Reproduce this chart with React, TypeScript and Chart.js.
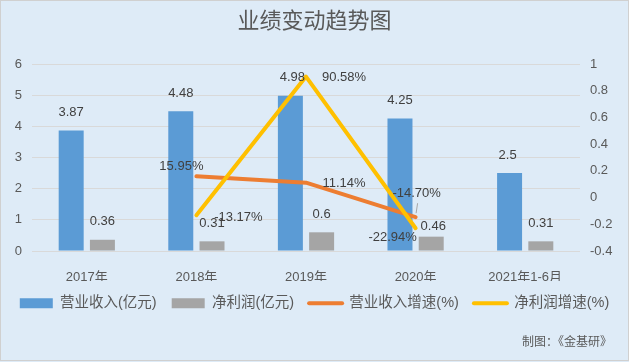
import React, { useEffect, useRef } from 'react';
import { Chart, registerables } from 'chart.js';

Chart.register(...registerables);

const categories = ['2017年', '2018年', '2019年', '2020年', '2021年1-6月'];
const revenue = [3.87, 4.48, 4.98, 4.25, 2.5];
const netProfit = [0.36, 0.31, 0.6, 0.46, 0.31];
const revenueGrowth = [null, 0.1595, 0.1114, -0.147, null];
const profitGrowth = [null, -0.1317, 0.9058, -0.2294, null];
const leftTicks = [0, 1, 2, 3, 4, 5, 6];
const rightTicks = [-0.4, -0.2, 0, 0.2, 0.4, 0.6, 0.8, 1];

const seriesNames = ['营业收入(亿元)', '净利润(亿元)', '营业收入增速(%)', '净利润增速(%)'];
const seriesColors = ['#5B9BD5', '#A5A5A5', '#ED7D31', '#FFC000'];
const titleText = '业绩变动趋势图';
const footerText = '制图：《金基研》';

// label placement (style, not data)
const revenueLabelShift = [[0, -18], [0, -18], [2, -18], [0, -18], [-2, -18]];
const profitLabelShift = [[0, -18], [0, -18], [0, -18], [2, -10], [0, -18]];
const revenueGrowthLabelShift = [null, [-15, -10], [38, 1], [1, -24], null];
const profitGrowthLabelShift = [null, [42, 2], [38, 1], [-23, 9], null];
const leaderLines = [{ ds: 2, idx: 3 }];

const FONT = '"Liberation Sans", "Noto Sans CJK SC", sans-serif';
const TEXT = '#595959';

const bgPlugin = {
  id: 'bg',
  beforeDraw(chart: any) {
    const { ctx, width, height } = chart;
    ctx.save();
    ctx.fillStyle = '#DEEBF7';
    ctx.fillRect(0, 0, width, height);
    ctx.strokeStyle = '#D0D0D0';
    ctx.lineWidth = 1;
    ctx.strokeRect(0.5, 0.5, width - 1, height - 2);
    ctx.restore();
  },
  afterDraw(chart: any) {
    const { ctx } = chart;
    ctx.save();
    ctx.font = '12px ' + FONT;
    ctx.fillStyle = TEXT;
    ctx.textAlign = 'right';
    ctx.textBaseline = 'middle';
    ctx.fillText(footerText, 612, 343);
    ctx.restore();
  },
};

const labelPlugin = {
  id: 'valueLabels',
  afterDatasetsDraw(chart: any) {
    const { ctx } = chart;
    ctx.save();
    ctx.font = '13px ' + FONT;
    ctx.fillStyle = '#404040';
    ctx.textAlign = 'center';
    ctx.textBaseline = 'middle';
    const groups: any[] = [
      { ds: 0, values: revenue, shift: revenueLabelShift, fmt: (v: number) => String(v) },
      { ds: 1, values: netProfit, shift: profitLabelShift, fmt: (v: number) => String(v) },
      { ds: 2, values: revenueGrowth, shift: revenueGrowthLabelShift, fmt: (v: number) => (v * 100).toFixed(2) + '%' },
      { ds: 3, values: profitGrowth, shift: profitGrowthLabelShift, fmt: (v: number) => (v * 100).toFixed(2) + '%' },
    ];
    groups.forEach((g) => {
      const meta = chart.getDatasetMeta(g.ds);
      g.values.forEach((v: number | null, i: number) => {
        if (v === null || !g.shift[i]) return;
        const el = meta.data[i];
        if (!el) return;
        const [dx, dy] = g.shift[i];
        ctx.fillText(g.fmt(v), el.x + dx, el.y + dy);
      });
    });
    ctx.strokeStyle = '#A6A6A6';
    ctx.lineWidth = 1;
    leaderLines.forEach((l) => {
      const el = chart.getDatasetMeta(l.ds).data[l.idx];
      if (!el) return;
      ctx.beginPath();
      ctx.moveTo(el.x + 2, el.y - 14);
      ctx.lineTo(el.x + 0.5, el.y - 4);
      ctx.stroke();
    });
    ctx.restore();
  },
};

export default function App() {
  const ref = useRef<HTMLCanvasElement | null>(null);

  useEffect(() => {
    document.body.style.margin = '0';
    const canvas = ref.current;
    if (!canvas) return;
    const chart = new Chart(canvas, {
      type: 'bar',
      data: {
        labels: categories,
        datasets: [
          {
            type: 'bar',
            label: seriesNames[0],
            data: revenue,
            backgroundColor: seriesColors[0],
            yAxisID: 'y',
            order: 2,
            categoryPercentage: 0.57,
            barPercentage: 0.8,
          },
          {
            type: 'bar',
            label: seriesNames[1],
            data: netProfit,
            backgroundColor: seriesColors[1],
            yAxisID: 'y',
            order: 3,
            categoryPercentage: 0.57,
            barPercentage: 0.8,
          },
          {
            type: 'line',
            label: seriesNames[2],
            data: revenueGrowth,
            borderColor: seriesColors[2],
            backgroundColor: seriesColors[2],
            borderWidth: 4,
            pointRadius: 0,
            tension: 0,
            borderCapStyle: 'round',
            borderJoinStyle: 'round',
            yAxisID: 'y1',
            order: 1,
          },
          {
            type: 'line',
            label: seriesNames[3],
            data: profitGrowth,
            borderColor: seriesColors[3],
            backgroundColor: seriesColors[3],
            borderWidth: 4,
            pointRadius: 0,
            tension: 0,
            borderCapStyle: 'round',
            borderJoinStyle: 'round',
            yAxisID: 'y1',
            order: 0,
          },
        ] as any,
      },
      options: {
        responsive: false,
        animation: false,
        devicePixelRatio: 1,
        layout: { padding: { left: 0, right: 0, top: 0, bottom: 41.5 } },
        plugins: {
          tooltip: { enabled: false },
          title: {
            display: true,
            text: titleText,
            color: TEXT,
            font: { size: 22, family: FONT, weight: 'normal' },
            padding: { top: 9, bottom: 28.6 },
          },
          legend: {
            position: 'bottom',
            labels: {
              usePointStyle: true,
              pointStyleWidth: 33,
              boxHeight: 10,
              padding: 15,
              color: TEXT,
              font: { size: 14.5, family: FONT },
              generateLabels: (chart: any) =>
                chart.data.datasets.map((ds: any, i: number) => {
                  const isLine = ds.type === 'line';
                  return {
                    text: ds.label,
                    datasetIndex: i,
                    fillStyle: isLine ? ds.borderColor : ds.backgroundColor,
                    strokeStyle: isLine ? ds.borderColor : ds.backgroundColor,
                    lineWidth: isLine ? 4 : 0,
                    lineCap: 'round',
                    pointStyle: isLine ? 'line' : 'rect',
                    hidden: false,
                    fontColor: TEXT,
                  };
                }),
            },
          },
        },
        scales: {
          x: {
            type: 'category',
            offset: true,
            grid: { display: false },
            border: { display: false },
            ticks: { color: TEXT, font: { size: 13, family: FONT }, padding: 11 },
            afterFit: (s: any) => {
              s.height = 30;
            },
          },
          y: {
            position: 'left',
            min: 0,
            max: 6,
            afterBuildTicks: (s: any) => {
              s.ticks = leftTicks.map((v) => ({ value: v }));
            },
            grid: { color: '#D9D9D9', drawTicks: false, lineWidth: 1 },
            border: { display: false },
            ticks: { color: TEXT, font: { size: 13, family: FONT }, padding: 10 },
            afterFit: (s: any) => {
              s.width = 32;
            },
          },
          y1: {
            position: 'right',
            min: -0.4,
            max: 1,
            afterBuildTicks: (s: any) => {
              s.ticks = rightTicks.map((v) => ({ value: v }));
            },
            grid: { display: false, drawTicks: false },
            border: { display: false },
            ticks: {
              color: TEXT,
              font: { size: 13, family: FONT },
              padding: 10,
              callback: (v: any) => String(Math.round(Number(v) * 10) / 10),
            },
            afterFit: (s: any) => {
              s.width = 49;
            },
          },
        },
      } as any,
      plugins: [bgPlugin, labelPlugin],
    });
    return () => chart.destroy();
  }, []);

  return (
    <div style={{ position: 'absolute', left: 0, top: 0, width: 629, height: 362 }}>
      <canvas ref={ref} width={629} height={362} style={{ display: 'block', width: 629, height: 362 }} />
    </div>
  );
}
